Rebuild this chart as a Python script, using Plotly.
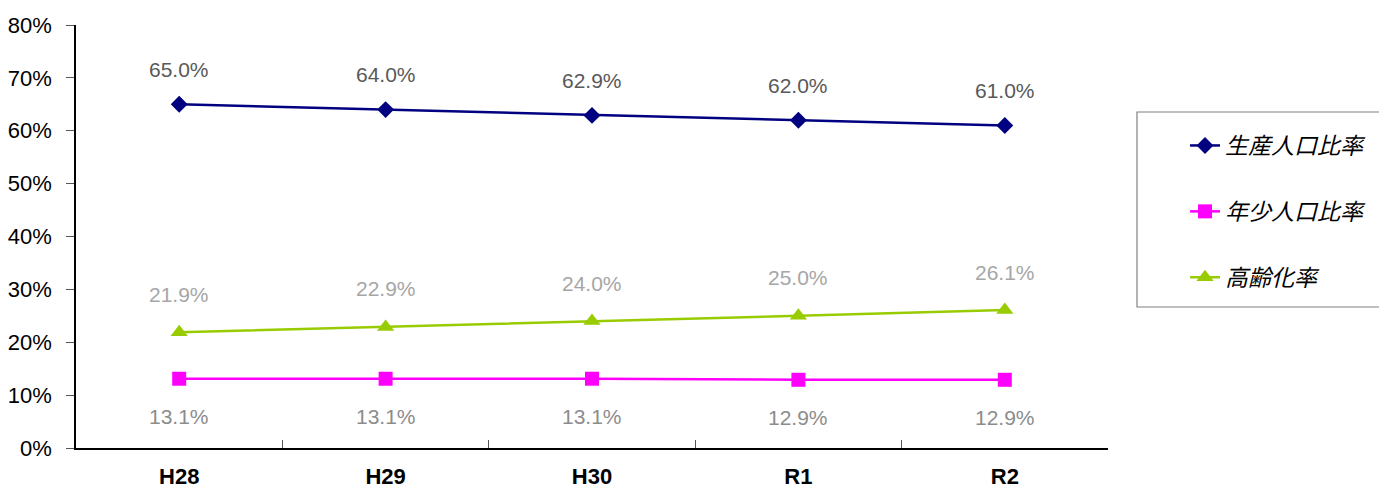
import plotly.graph_objects as go

categories = ["H28", "H29", "H30", "R1", "R2"]
working = [0.650, 0.640, 0.629, 0.620, 0.610]
youth = [0.131, 0.131, 0.131, 0.129, 0.129]
elderly = [0.219, 0.229, 0.240, 0.250, 0.261]
names = ["生産人口比率", "年少人口比率", "高齢化率"]

series = [
    (names[0], working, "#000080", "diamond", 13, "#595959", 35),
    (names[1], youth, "#FF00FF", "square", 14, "#8C8C8C", -38),
    (names[2], elderly, "#99CC00", "triangle-up", 15, "#A6A6A6", 38),
]

# page body has an 8px margin; work in screen coordinates and offset
OFF = 8
SW, SH = 1387, 488
W, H = SW - OFF, SH - OFF
L, T = 76 - OFF, 25 - OFF
R = W - (1108 - OFF)
B = H - (448 - OFF)
pw, ph = W - L - R, H - T - B

def px_x(x):
    return (x - OFF - L) / pw

def px_y(y):
    return (H - B - (y - OFF)) / ph

fig = go.Figure()
annotations = []
for name, vals, color, sym, msize, lcolor, shift in series:
    fig.add_trace(go.Scatter(
        x=categories, y=vals, name=name, mode="lines+markers",
        legendgroup=name,
        line=dict(color=color, width=2.5),
        marker=dict(symbol=sym, size=msize, color=color),
    ))
    for c, v in zip(categories, vals):
        annotations.append(dict(
            x=c, y=v, text=f"{v*100:.1f}%", showarrow=False, yshift=shift,
            font=dict(family="Liberation Sans, Arial", size=21, color=lcolor),
        ))

fig.update_layout(
    width=W, height=H,
    margin=dict(l=L, r=R, t=T, b=B),
    paper_bgcolor="white", plot_bgcolor="white",
    annotations=annotations,
    showlegend=True,
    legend=dict(
        x=px_x(1185), y=px_y(124), xanchor="left", yanchor="top",
        borderwidth=0, bgcolor="rgba(0,0,0,0)",
        font=dict(family="Noto Sans CJK JP", size=23, color="black", style="italic"),
        tracegroupgap=33,
    ),
    shapes=[dict(
        type="rect", xref="paper", yref="paper",
        x0=px_x(1137), x1=px_x(1385), y0=px_y(307), y1=px_y(112),
        line=dict(color="#808080", width=1.2),
    )],
    xaxis=dict(
        type="category", range=[-0.5, 4.5], automargin=False,
        showline=True, linecolor="black", linewidth=1.5,
        ticks="inside", tickson="boundaries", ticklen=8, tickcolor="#555",
        showgrid=False, ticklabelstandoff=8,
        tickfont=dict(family="Liberation Sans, Arial", size=22, color="black", weight="bold"),
    ),
    yaxis=dict(
        range=[0, 0.8], dtick=0.1, tickformat=".0%", automargin=False,
        showline=True, linecolor="black", linewidth=1.5,
        ticks="outside", ticklen=8, tickcolor="#555",
        showgrid=False, zeroline=False, ticklabelstandoff=10,
        tickfont=dict(family="Liberation Sans, Arial", size=22, color="black"),
    ),
)

fig.write_html("out.html")
